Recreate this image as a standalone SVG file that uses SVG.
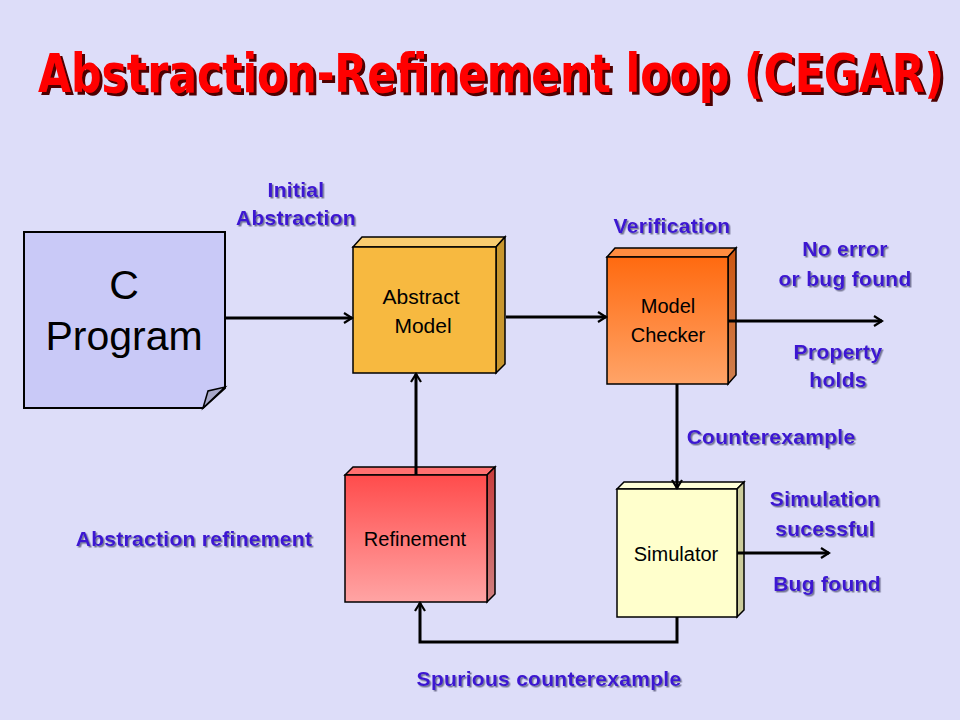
<svg xmlns="http://www.w3.org/2000/svg" width="960" height="720" viewBox="0 0 960 720">
<defs>
<style>
.lbl{font-family:"Liberation Sans",Arial,sans-serif;font-weight:bold;font-size:21px;letter-spacing:0.3px;fill:#3C14D2;text-anchor:middle}
.node{font-family:"Liberation Sans",Arial,sans-serif;font-size:20px;fill:#000;text-anchor:middle}
.big{font-size:41px}
.edge{stroke:#000;stroke-width:3;fill:none}
.bx{stroke:#000;stroke-width:1.5}
</style>
<filter id="tsh" x="-5%" y="-20%" width="110%" height="150%">
<feDropShadow dx="1.5" dy="1.5" stdDeviation="0.4" flood-color="#6A6A8A" flood-opacity="0.9"/>
</filter>
<filter id="titsh" x="-2%" y="-20%" width="104%" height="150%">
<feDropShadow dx="3" dy="3" stdDeviation="0.6" flood-color="#500000" flood-opacity="1"/>
</filter>
<marker id="arr" viewBox="0 0 12 12" refX="10" refY="6" markerWidth="12" markerHeight="12" markerUnits="userSpaceOnUse" orient="auto">
<path d="M2,1 L10,6 L2,11" fill="none" stroke="#000" stroke-width="2.2"/>
</marker>
<linearGradient id="gMC" x1="0" y1="0" x2="0" y2="1">
<stop offset="0" stop-color="#FF6A10"/>
<stop offset="1" stop-color="#FFA468"/>
</linearGradient>
<linearGradient id="gMCs" x1="0" y1="0" x2="0" y2="1">
<stop offset="0" stop-color="#CC5510"/>
<stop offset="1" stop-color="#D08050"/>
</linearGradient>
<linearGradient id="gR" x1="0" y1="0" x2="0" y2="1">
<stop offset="0" stop-color="#FF4C4C"/>
<stop offset="1" stop-color="#FFA4A4"/>
</linearGradient>
<linearGradient id="gRs" x1="0" y1="0" x2="0" y2="1">
<stop offset="0" stop-color="#C83C3C"/>
<stop offset="1" stop-color="#D08080"/>
</linearGradient>
</defs>
<rect width="960" height="720" fill="#DDDDF9"/>

<g id="title" font-family="'DejaVu Sans Condensed','DejaVu Sans',sans-serif" font-weight="bold" font-size="54" filter="url(#titsh)">
<text x="38" y="92" fill="#FF0000" textLength="906" lengthAdjust="spacingAndGlyphs">Abstraction-Refinement loop (CEGAR)</text>
</g>

<g id="cprogram">
<path d="M24,232 H225 V388 L203,408 H24 Z" fill="#C9C9F7" stroke="#000" stroke-width="2"/>
<path d="M203,408 L208,391 L225,387 Z" fill="#A8A8C8" stroke="#000" stroke-width="1.5"/>
<text class="node big" x="124" y="299">C</text>
<text class="node big" x="124" y="350">Program</text>
</g>

<g id="abstract-model">
<path class="bx" d="M353,247 L362,237 H505 L496,247 Z" fill="#F9CC70"/>
<path class="bx" d="M496,247 L505,237 V364 L496,373 Z" fill="#C8962E"/>
<rect class="bx" x="353" y="247" width="143" height="126" fill="#F7B940"/>
<text class="node" x="421" y="304" style="font-size:21px">Abstract</text>
<text class="node" x="423" y="333" style="font-size:21px">Model</text>
</g>

<g id="model-checker">
<path class="bx" d="M607,257 L615,248 H736 L728,257 Z" fill="#FF8C40"/>
<path class="bx" d="M728,257 L736,248 V375 L728,384 Z" fill="url(#gMCs)"/>
<rect class="bx" x="607" y="257" width="121" height="127" fill="url(#gMC)"/>
<text class="node" x="668" y="313">Model</text>
<text class="node" x="668" y="342">Checker</text>
</g>

<g id="refinement">
<path class="bx" d="M345,475 L353,467 H495 L487,475 Z" fill="#FF7070"/>
<path class="bx" d="M487,475 L495,467 V594 L487,602 Z" fill="url(#gRs)"/>
<rect class="bx" x="345" y="475" width="142" height="127" fill="url(#gR)"/>
<text class="node" x="415" y="546">Refinement</text>
</g>

<g id="simulator">
<path class="bx" d="M617,489 L624,482 H744 L737,489 Z" fill="#FFFFD8"/>
<path class="bx" d="M737,489 L744,482 V610 L737,617 Z" fill="#CCCC9C"/>
<rect class="bx" x="617" y="489" width="120" height="128" fill="#FFFFCC"/>
<text class="node" x="676" y="561">Simulator</text>
</g>

<g id="connectors">
<line class="edge" x1="225" y1="318" x2="352" y2="318" marker-end="url(#arr)"/>
<line class="edge" x1="506" y1="317" x2="606" y2="317" marker-end="url(#arr)"/>
<line class="edge" x1="728" y1="321" x2="882" y2="321" marker-end="url(#arr)"/>
<line class="edge" x1="677" y1="384" x2="677" y2="488" marker-end="url(#arr)"/>
<line class="edge" x1="737" y1="553" x2="829" y2="553" marker-end="url(#arr)"/>
<polyline class="edge" points="677,617 677,642 420,642 420,603" marker-end="url(#arr)"/>
<line class="edge" x1="416" y1="475" x2="416" y2="374" marker-end="url(#arr)"/>
</g>

<g id="labels" filter="url(#tsh)">
<text class="lbl" x="296" y="197">Initial</text>
<text class="lbl" x="296" y="225">Abstraction</text>
<text class="lbl" x="672" y="233">Verification</text>
<text class="lbl" x="845" y="256">No error</text>
<text class="lbl" x="845" y="286">or bug found</text>
<text class="lbl" x="838" y="359">Property</text>
<text class="lbl" x="838" y="387">holds</text>
<text class="lbl" x="771" y="444">Counterexample</text>
<text class="lbl" x="825" y="506">Simulation</text>
<text class="lbl" x="825" y="536">sucessful</text>
<text class="lbl" x="827" y="591">Bug found</text>
<text class="lbl" x="194" y="546">Abstraction refinement</text>
<text class="lbl" x="549" y="686">Spurious counterexample</text>
</g>
</svg>
